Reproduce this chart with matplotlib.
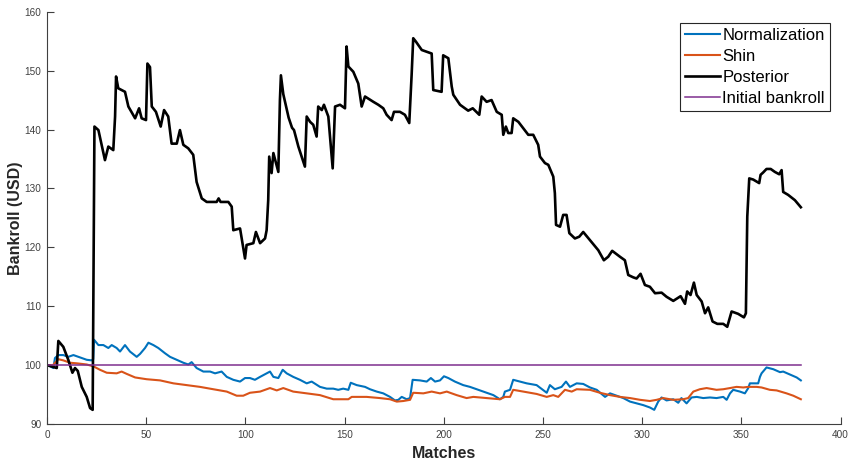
import matplotlib
matplotlib.use("Agg")
import matplotlib.pyplot as plt

# ---- data ----
posterior_x = [0, 2, 4.9, 5.7, 8.2, 10.7, 12.8, 14.1, 15.5, 17.5, 20, 21.7, 23, 23.9, 25.9, 29.2, 30.9, 33.4,
               34.3, 34.8, 35.9, 39.3, 41, 44.4, 46.4, 47.7, 49.9, 50.6, 51.9, 52.8, 54.9, 57.3, 59, 61.1,
               62.8, 65.4, 67, 68.7, 71.2, 73.7, 75.4, 78, 80.5, 85.5, 86.5, 87.5, 91.4, 93.1, 93.9, 97.3,
               99.8, 100.6, 104, 105.3, 107.4, 109.9, 110.7, 111.5, 112, 113.2, 114.1, 116.6, 117.4, 117.9,
               119.1, 121.8, 123.5, 124.5, 126.7, 130, 130.9, 132.6, 134.2, 135.9, 136.7, 138.5, 139.6, 141.8,
               144, 145.2, 147.7, 150.2, 151, 151.9, 154.4, 156.9, 158.6, 160.3, 164.5, 167, 169.5, 171.2,
               173.7, 174.9, 177.9, 180.4, 182.6, 183.8, 184.6, 186, 188.9, 193, 193.9, 194.7, 198.9, 199.7,
               202.3, 204, 204.8, 208.2, 212.3, 214.6, 217.9, 219.1, 221.6, 224.1, 226.7, 229.2, 230, 231.3,
               232.5, 234.2, 235, 237.6, 240.1, 242.6, 245.1, 247.6, 248.5, 251, 252.7, 255.2, 256, 256.6,
               258.6, 260.2, 261.9, 263.3, 266.1, 268.3, 270.3, 273.7, 277.9, 280.7, 282.9, 284.9, 288.8,
               291.3, 293, 295.5, 297.2, 299.2, 301.4, 303.9, 306.5, 309.8, 312.3, 315.7, 319.4, 321.6, 322.7,
               324.4, 326.1, 327.5, 330, 331.7, 333.3, 335.5, 337.9, 340.9, 342.9, 345.1, 348.4, 351.3, 352.3,
               353, 354, 356, 359, 359.7, 361, 362.7, 364.8, 366.9, 369.1, 370.3, 371.1, 373.6, 377, 380]
posterior_y = [100, 99.8, 99.5, 104.1, 103.1, 100.9, 98.7, 99.5, 99.0, 96.3, 94.6, 92.7, 92.4, 140.5, 139.9,
               134.8, 137.1, 136.5, 142.2, 149.0, 147.0, 146.4, 143.9, 141.9, 143.6, 141.9, 141.6, 151.2,
               150.6, 143.9, 143.0, 140.5, 143.3, 142.2, 137.6, 137.6, 139.9, 137.4, 136.8, 135.7, 131.1,
               128.3, 127.7, 127.7, 128.3, 127.7, 127.7, 126.9, 122.9, 123.2, 118.1, 120.4, 120.7, 122.6,
               120.7, 121.5, 122.9, 128, 135.4, 132.6, 136, 132.8, 145, 149.2, 146, 142, 140.3, 139.9, 137.1,
               133.7, 142.2, 141.3, 140.8, 138.8, 143.9, 143.3, 144.2, 142.2, 133.4, 143.9, 144.2, 143.6,
               154.1, 150.7, 149.8, 147.8, 143.9, 145.6, 144.7, 144.2, 143.6, 142.5, 141.6, 143, 143, 142.5,
               141.1, 149.3, 155.5, 154.9, 153.5, 153, 152.9, 146.7, 146.4, 152.6, 152.1, 147.3, 145.9,
               144.2, 143.2, 143.6, 142.5, 145.6, 144.7, 145, 143, 142.5, 139.1, 140.5, 139.4, 139.4, 141.9,
               141.3, 140.2, 139.1, 139.1, 137.4, 135.4, 134.3, 134, 132, 129.2, 123.8, 123.5, 125.5, 125.5,
               122.4, 121.5, 121.8, 122.6, 121.2, 119.5, 117.8, 118.4, 119.4, 118.4, 117.8, 115.3, 114.9,
               114.7, 115.5, 113.6, 113.3, 112.2, 112.3, 111.6, 110.9, 111.7, 110.4, 112.5, 111.9, 114,
               111.9, 110.8, 108.8, 109.8, 107.4, 107, 107, 106.5, 109.1, 108.7, 108.1, 108.8, 125.2, 131.7,
               131.5, 130.9, 132.3, 132.7, 133.3, 133.3, 132.8, 132.4, 133.1, 129.4, 128.9, 128, 126.8]

norm_x = [0, 1.5, 3.2, 4, 5.7, 8.2, 10.7, 13.3, 15.8, 17.5, 20, 22.5, 23.3, 23.7, 25.9, 28.4, 30.9, 32.6,
          35.1, 36.8, 39.3, 41.8, 45.2, 46.9, 49.4, 51.1, 53.6, 56.1, 59.5, 62, 65.4, 68.7, 71.2, 72.9,
          75.4, 78.8, 82.2, 84.7, 88, 90.6, 93.9, 97.3, 99.8, 102.3, 104.8, 107.4, 110.7, 112.4, 114.1,
          116.6, 118.8, 120.8, 124.1, 127.5, 130.9, 133.4, 137.6, 141, 144.3, 146.8, 149.3, 151.9, 153.1,
          156.1, 160.3, 162.8, 166.2, 169.5, 172.9, 175.4, 177.1, 178.8, 181.3, 183, 184.3, 188, 191.4,
          193.5, 195.6, 198.1, 200.1, 202.3, 205.6, 209.8, 213.2, 217.4, 221.6, 225, 228.3, 230, 230.8,
          233.4, 235, 238.4, 241.8, 246.8, 251.9, 253.5, 256, 259.4, 261.6, 263.6, 267, 270.3, 273.7,
          277.1, 279.6, 281.3, 283.8, 287.1, 290.5, 293.9, 297.2, 300.6, 303.9, 306.1, 308.1, 309.8,
          312.3, 315.7, 318.2, 319.8, 322.4, 324.9, 327.5, 330.8, 334.2, 337.5, 340.9, 342.6, 344.3,
          345.9, 349.3, 351.8, 353.5, 354.3, 358.5, 359.4, 360.2, 362.7, 366.1, 369.5, 371.1, 374.5,
          377.9, 380]
norm_y = [100, 99.8, 99.5, 101.2, 101.7, 101.7, 101.4, 101.7, 101.4, 101.2, 100.9, 100.8, 101.0, 104.3,
          103.4, 103.4, 102.9, 103.4, 102.9, 102.3, 103.4, 102.3, 101.4, 101.9, 102.9, 103.8, 103.4, 102.9,
          102.0, 101.4, 100.9, 100.4, 100.1, 100.5, 99.5, 98.9, 98.9, 98.6, 98.9, 98.0, 97.5, 97.2, 97.8,
          97.8, 97.5, 98.0, 98.6, 98.9, 98.0, 97.8, 99.2, 98.6, 98.0, 97.5, 96.9, 97.2, 96.3, 96.0, 96.0,
          95.8, 96.0, 95.8, 97.0, 96.6, 96.3, 95.9, 95.5, 95.2, 94.6, 94.0, 94.1, 94.6, 94.2, 94.4, 97.5,
          97.4, 97.2, 97.8, 97.2, 97.4, 98.1, 97.8, 97.2, 96.6, 96.3, 95.8, 95.3, 94.9, 94.2, 94.6, 95.5,
          95.8, 97.5, 97.2, 96.9, 96.6, 95.3, 96.6, 95.9, 96.3, 97.2, 96.3, 96.9, 96.8, 96.2, 95.8, 95.1,
          94.6, 95.2, 94.8, 94.4, 93.8, 93.5, 93.2, 92.8, 92.4, 93.8, 94.5, 94.0, 94.2, 93.6, 94.4, 93.5,
          94.5, 94.6, 94.4, 94.5, 94.4, 94.6, 94.1, 95.2, 95.8, 95.5, 95.2, 96.1, 96.9, 96.9, 98.0, 98.6,
          99.6, 99.3, 98.8, 98.9, 98.4, 97.9, 97.4]

shin_x = [0, 3, 5.7, 8.2, 11.6, 15, 20, 23.3, 26.7, 30.1, 35.1, 37.6, 40.2, 44.4, 50.2, 57, 63.7, 70.4,
          77.1, 83.8, 90.6, 95.6, 98.9, 102.3, 107.4, 112.4, 115.8, 119.1, 124.1, 130.9, 137.6, 144.3,
          151.9, 153.6, 161.1, 167.8, 172.9, 176.3, 179.6, 183, 184.6, 189.7, 193.9, 198.1, 201.5, 206.5,
          211.5, 214.9, 221.6, 228.3, 230.8, 233.4, 235, 240.1, 246.8, 251.9, 255.2, 257.7, 261.1, 264.5,
          267, 273.7, 278.7, 283.8, 288.8, 293.9, 299, 303.9, 307.3, 310.6, 315.7, 320.7, 323.2, 325.8,
          329.1, 332.5, 337.5, 340.9, 344.3, 347.6, 351, 353.5, 357.7, 360.2, 364.4, 367.8, 372.8, 376.2,
          380]
shin_y = [100, 100.0, 101.0, 100.8, 100.4, 100.3, 100.1, 99.8, 99.2, 98.7, 98.6, 98.9, 98.5, 97.9, 97.6,
          97.4, 96.9, 96.6, 96.3, 95.9, 95.5, 94.8, 94.8, 95.3, 95.5, 96.1, 95.7, 96.1, 95.5, 95.2, 94.9,
          94.2, 94.2, 94.6, 94.6, 94.4, 94.2, 93.8, 93.9, 94.1, 95.3, 95.2, 95.5, 95.2, 95.5, 94.9, 94.4,
          94.6, 94.4, 94.2, 94.6, 94.6, 95.8, 95.5, 95.1, 94.6, 94.9, 94.6, 95.8, 95.5, 95.9, 95.8, 95.3,
          94.9, 94.6, 94.4, 94.1, 93.9, 94.1, 94.4, 94.1, 94.2, 94.4, 95.5, 95.9, 96.1, 95.8, 95.9, 96.1,
          96.3, 96.2, 96.3, 96.3, 96.2, 95.8, 95.7, 95.2, 94.8, 94.2]

initial_x = [0, 380]
initial_y = [100, 100]

series_labels = ["Normalization", "Shin", "Posterior", "Initial bankroll"]
xticks = [0, 50, 100, 150, 200, 250, 300, 350, 400]
yticks = [90, 100, 110, 120, 130, 140, 150, 160]

# ---- plotting ----
plt.rcParams['font.family'] = ['Liberation Sans', 'DejaVu Sans']
fig = plt.figure(figsize=(8.49, 4.61), dpi=100)
ax = fig.add_axes([0.0554, 0.0803, 0.9346, 0.8943])

ax.plot(norm_x, norm_y, color='#0072BD', lw=1.5, label=series_labels[0])
ax.plot(shin_x, shin_y, color='#D95319', lw=1.5, label=series_labels[1])
ax.plot(posterior_x, posterior_y, color='black', lw=1.9, label=series_labels[2])
ax.plot(initial_x, initial_y, color='#7E2F8E', lw=1.1, label=series_labels[3])

ax.set_xlim(0, 400)
ax.set_ylim(90, 160)
ax.set_xticks(xticks)
ax.set_yticks(yticks)

axcol = '#404040'
for s in ['top', 'right']:
    ax.spines[s].set_visible(False)
for s in ['left', 'bottom']:
    ax.spines[s].set_color(axcol)
    ax.spines[s].set_linewidth(0.8)
ax.tick_params(direction='in', length=5, width=0.8, color=axcol, labelcolor=axcol, labelsize=7.2, pad=4)

ax.set_xlabel("Matches", fontsize=11.5, fontweight='bold', color='#262626', labelpad=5)
ax.set_ylabel("Bankroll (USD)", fontsize=11.5, fontweight='bold', color='#262626', labelpad=1)

leg = ax.legend(loc='upper right', bbox_to_anchor=(0.9865, 0.973), fontsize=12, frameon=True,
                fancybox=False, edgecolor='#262626', framealpha=1, handlelength=2.1, handletextpad=0.15,
                labelspacing=0.36, borderpad=0.3, borderaxespad=0)
leg.get_frame().set_linewidth(0.8)

fig.savefig("out.png", dpi=100)
